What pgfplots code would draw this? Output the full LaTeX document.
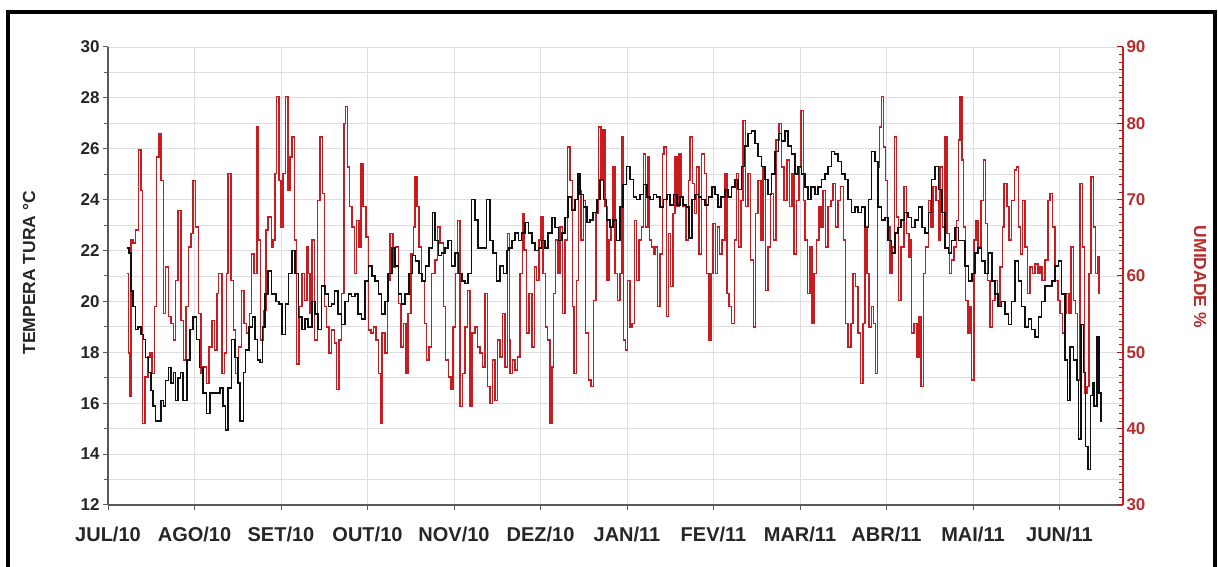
\documentclass[border=0pt]{standalone}
\usepackage{fontspec}
\setmainfont{Liberation Sans}
\usepackage{pgfplots}
\pgfplotsset{compat=1.18}
\definecolor{hum}{RGB}{200,28,32}
\definecolor{humtxt}{RGB}{185,45,45}
\definecolor{gridc}{RGB}{222,222,222}
\definecolor{axc}{RGB}{90,90,90}
\definecolor{tmp}{RGB}{15,15,15}
\begin{document}
\begin{tikzpicture}
\useasboundingbox (0,0) rectangle (1218pt,567pt);
\fill[white] (0,0) rectangle (1218pt,567pt);
% ---------- temperature axis (grid, left axis, months) ----------
\begin{axis}[at={(108pt,62pt)}, anchor=south west, scale only axis, width=1015pt, height=458pt,
 xmin=0, xmax=11.734, ymin=12, ymax=30,
 axis x line*=bottom, axis y line*=left,
 axis line style={-, draw=axc, line width=1.3pt},
 xtick={0,...,11},
 xticklabels={JUL/10,AGO/10,SET/10,OUT/10,NOV/10,DEZ/10,JAN/11,FEV/11,MAR/11,ABR/11,MAI/11,JUN/11},
 ytick={12,14,...,30}, minor ytick={13,15,...,29},
 xmajorgrids, ymajorgrids, yminorgrids,
 major grid style={draw=gridc, line width=0.8pt},
 minor grid style={draw=gridc, line width=0.8pt},
 tick align=outside, major tick length=5pt, minor tick length=4pt,
 tick style={draw=axc, line width=1pt},
 xticklabel style={font=\fontsize{20}{22}\selectfont\bfseries, yshift=-13pt, text=black!85},
 yticklabel style={font=\fontsize{17}{19}\selectfont\bfseries, text=black!85},
 /pgf/number format/assume math mode=true,
 ylabel={TEMPERA TURA °C},
 ylabel style={at={(axis description cs:-0.0778,0.507)}, anchor=center, font=\fontsize{17.5}{19}\selectfont\bfseries, text=black!85},
]
\end{axis}
% ---------- humidity axis (right) ----------
\begin{axis}[at={(108pt,62pt)}, anchor=south west, scale only axis, width=1015pt, height=458pt,
 xmin=0, xmax=11.734, ymin=30, ymax=90,
 axis x line=none, xtick=\empty,
 axis y line*=right,
 axis line style={-, draw=hum, line width=1.3pt},
 ytick={30,40,...,90}, minor tick num=9,
 tick align=inside, major tick length=6pt, minor tick length=4pt,
 tick style={draw=hum!80!black, line width=1pt},
 yticklabel style={font=\fontsize{17}{19}\selectfont\bfseries, text=humtxt},
 /pgf/number format/assume math mode=true,
 ylabel={UMIDADE \%},
 ylabel style={at={(axis description cs:1.076,0.498)}, anchor=center, rotate=180, font=\fontsize{17.5}{19}\selectfont\bfseries, text=humtxt},
]
\addplot[const plot, hum, line width=1.5pt] coordinates {
(0.215,60.3)(0.235,49.9)(0.255,44.2)(0.265,64.7)(0.29,64.3)(0.32,66.0)(0.35,76.5)(0.38,71.2)(0.40,40.7)(0.43,46.8)
(0.46,49.4)(0.485,49.9)(0.51,47.2)(0.535,56.0)(0.56,75.6)(0.59,78.7)(0.61,72.5)(0.64,55.1)(0.665,61.2)(0.70,54.7)
(0.73,53.8)(0.755,51.6)(0.78,59.4)(0.81,68.6)(0.845,54.2)(0.87,49.0)(0.90,56.0)(0.93,63.8)(0.96,65.6)(0.985,72.5)
(1.01,66.4)(1.045,55.1)(1.075,47.2)(1.10,48.1)(1.14,45.9)(1.165,50.7)(1.20,54.2)(1.23,50.3)(1.26,57.7)(1.28,60.3)
(1.315,47.2)(1.345,49.9)(1.37,60.3)(1.39,73.4)(1.42,59.4)(1.45,52.9)(1.475,47.2)(1.51,50.7)(1.545,58.1)(1.575,53.8)
(1.60,52.5)(1.635,55.1)(1.66,62.9)(1.69,60.3)(1.72,79.5)(1.74,64.7)(1.765,51.6)(1.795,55.5)(1.825,66.0)(1.85,67.7)
(1.89,63.8)(1.91,64.7)(1.93,73.4)(1.95,83.5)(1.975,72.5)(2.0,66.4)(2.025,73.4)(2.05,83.5)(2.08,71.2)(2.105,75.6)
(2.125,78.2)(2.155,64.7)(2.18,48.5)(2.21,56.0)(2.24,60.3)(2.27,56.8)(2.30,63.8)(2.32,60.3)
(2.335,55.1)(2.36,64.7)(2.39,51.6)(2.42,69.9)(2.45,78.2)(2.477,70.8)(2.50,56.0)(2.527,53.3)(2.555,49.9)(2.585,52.9)
(2.62,51.2)(2.643,45.1)(2.67,51.6)(2.70,57.7)(2.73,80.0)(2.747,82.2)(2.77,74.3)(2.79,69.1)(2.82,66.4)(2.85,60.3)
(2.875,67.3)(2.90,63.8)(2.924,74.7)(2.95,69.1)(2.98,65.1)(3.01,52.9)(3.04,52.5)(3.07,53.3)(3.10,51.6)(3.125,47.2)
(3.148,40.7)(3.17,52.5)(3.20,49.9)(3.233,59.4)(3.26,65.6)(3.295,61.2)(3.325,63.8)(3.356,56.4)(3.387,50.7)(3.418,53.8)
(3.445,47.2)(3.47,55.1)(3.50,62.9)(3.53,66.4)(3.55,73.0)(3.57,69.1)(3.595,63.8)(3.625,59.4)(3.66,53.8)(3.684,49.0)
(3.71,50.7)(3.74,60.3)(3.78,62.1)(3.81,66.4)(3.84,64.3)(3.876,56.0)(3.90,49.0)(3.934,46.8)(3.965,45.1)(3.99,53.3)
(4.02,60.3)(4.04,67.3)(4.07,42.9)(4.096,47.2)(4.127,53.3)(4.157,58.1)(4.185,42.9)(4.21,52.5)(4.24,53.3)(4.27,50.7)
(4.30,49.9)(4.33,48.1)(4.358,57.7)(4.39,45.5)(4.416,43.3)(4.443,49.0)(4.473,43.7)(4.504,51.6)(4.53,49.4)(4.558,55.1)
(4.59,48.1)(4.62,65.6)(4.64,51.6)
(4.647,47.2)(4.675,49.0)(4.705,47.7)(4.735,49.4)(4.763,60.3)(4.79,68.2)(4.81,63.4)(4.84,52.5)(4.867,57.7)(4.90,50.7)
(4.93,61.2)(4.956,59.4)(4.983,64.7)(5.006,67.7)(5.03,60.3)(5.06,53.3)(5.083,51.6)(5.11,40.7)(5.13,48.1)(5.15,57.7)
(5.176,64.7)(5.20,60.3)(5.226,66.4)(5.253,55.1)(5.284,64.7)(5.314,76.9)(5.34,72.5)(5.368,56.0)(5.39,47.2)(5.414,59.4)
(5.437,71.2)(5.47,64.7)(5.495,69.9)(5.52,52.5)(5.553,46.4)(5.584,45.5)(5.61,56.8)(5.64,68.2)(5.67,79.5)(5.70,72.5)
(5.72,79.1)(5.746,69.1)(5.77,59.4)(5.79,64.7)(5.815,66.4)(5.84,74.3)(5.86,60.3)(5.89,56.8)(5.92,60.3)(5.94,78.2)
(5.96,51.6)(5.985,50.3)(6.008,59.4)(6.035,53.3)(6.06,53.8)(6.085,67.3)(6.11,59.4)(6.14,64.7)(6.17,66.4)(6.19,76.0)
(6.216,66.4)(6.24,75.6)(6.26,64.7)(6.285,63.8)(6.31,62.9)(6.33,63.8)(6.355,56.0)(6.38,62.9)(6.41,76.0)(6.43,76.9)
(6.455,54.7)(6.48,65.6)(6.505,58.6)(6.53,68.2)(6.555,75.6)(6.578,69.1)(6.60,76.0)(6.625,70.4)(6.65,69.1)(6.68,64.7)
(6.71,72.5)(6.73,78.2)(6.755,72.1)(6.78,68.2)(6.805,74.3)(6.83,62.9)(6.863,76.0)(6.895,73.4)(6.92,60.3)(6.95,51.6)
(6.97,60.3)(6.996,66.9)(7.023,60.3)(7.046,66.4)(7.07,62.9)(7.10,64.7)(7.13,73.4)(7.154,57.7)(7.18,56.0)(7.21,53.8)
(7.24,64.7)(7.266,73.4)(7.29,63.8)(7.316,69.9)(7.343,80.4)(7.37,69.1)(7.40,73.4)(7.43,62.1)(7.46,53.3)(7.486,68.2)
(7.517,72.5)(7.547,64.7)(7.574,74.3)(7.60,58.1)(7.632,63.8)(7.66,70.8)(7.694,64.7)(7.72,77.8)(7.755,80.0)(7.786,74.3)
(7.817,69.9)(7.85,75.2)(7.88,69.1)(7.91,73.4)(7.933,62.9)(7.96,69.9)(7.987,74.3)(8.014,81.7)(8.04,69.9)(8.06,64.7)
(8.087,57.7)(8.114,63.8)(8.14,53.8)(8.164,60.3)(8.19,64.7)(8.218,69.1)(8.24,66.4)(8.268,71.2)(8.295,63.8)(8.326,69.1)
(8.357,69.9)(8.384,72.1)(8.41,66.4)(8.44,69.9)(8.47,71.7)(8.50,64.7)(8.526,53.8)(8.557,50.7)(8.588,53.8)(8.615,60.3)
(8.64,58.6)(8.67,52.5)(8.70,45.9)(8.727,53.8)(8.75,66.4)(8.777,60.3)(8.80,53.3)(8.827,56.0)(8.85,53.8)(8.873,47.2)
(8.896,74.3)(8.92,79.5)(8.94,83.5)(8.965,76.9)(8.99,72.5)(9.01,66.4)(9.04,60.3)(9.066,63.8)(9.09,78.2)(9.116,67.7)
(9.14,56.8)(9.17,63.8)(9.20,71.7)(9.23,65.6)(9.258,62.5)
(9.27,64.7)(9.29,52.5)(9.32,53.8)(9.35,49.4)(9.375,54.7)(9.40,45.5)(9.426,60.3)(9.45,63.8)(9.484,69.9)(9.514,66.4)
(9.54,71.7)(9.57,69.9)(9.60,64.7)(9.62,74.3)(9.65,66.4)(9.676,78.2)(9.70,65.6)(9.726,60.3)(9.75,62.1)(9.78,63.8)
(9.81,67.3)(9.83,77.8)(9.85,83.5)(9.87,75.2)(9.89,66.4)(9.915,56.8)(9.94,52.5)(9.965,56.0)(9.985,46.4)(10.01,64.7)
(10.035,67.3)(10.06,63.8)(10.09,69.9)(10.12,75.2)(10.146,66.9)(10.17,59.4)(10.197,53.3)(10.224,56.8)(10.255,59.4)(10.285,56.0)
(10.31,61.2)(10.34,66.4)(10.36,72.1)(10.39,69.1)(10.414,64.7)(10.447,69.9)(10.48,73.9)(10.50,74.3)(10.524,66.4)(10.547,62.9)
(10.57,69.9)(10.60,63.8)(10.63,57.7)(10.66,61.2)(10.686,60.3)(10.716,61.6)(10.75,60.3)(10.775,61.2)(10.80,59.4)(10.83,62.1)
(10.864,69.9)(10.89,70.8)(10.917,66.4)(10.948,59.4)(10.98,56.8)(11.006,55.1)(11.033,52.5)(11.056,55.1)(11.083,57.7)(11.11,55.1)
(11.133,63.8)(11.16,56.8)(11.187,55.1)(11.21,46.4)(11.237,72.1)(11.264,63.8)(11.287,44.6)(11.315,45.5)(11.34,60.3)(11.364,73.0)
(11.39,66.4)(11.418,60.3)(11.44,62.5)(11.457,57.7)(11.47,57.7)
};
\end{axis}
% ---------- temperature series on top ----------
\begin{axis}[at={(108pt,62pt)}, anchor=south west, scale only axis, width=1015pt, height=458pt,
 xmin=0, xmax=11.734, ymin=12, ymax=30, hide axis]
\addplot[const plot, tmp, line width=1.6pt] coordinates {
(0.215,22.1)(0.24,21.9)(0.265,20.4)(0.29,19.8)(0.32,18.9)(0.35,19.0)(0.38,18.7)(0.41,18.5)(0.435,17.8)(0.466,17.2)
(0.497,16.5)(0.52,15.9)(0.55,15.3)(0.58,15.3)(0.61,16.1)(0.64,15.9)(0.665,16.9)(0.70,17.4)(0.73,16.8)(0.755,17.2)
(0.78,16.1)(0.81,17.0)(0.84,17.2)(0.87,16.1)(0.91,17.7)(0.95,18.9)(0.985,19.4)(1.025,18.5)(1.06,17.4)(1.10,16.4)
(1.14,15.6)(1.18,16.4)(1.235,16.4)(1.295,16.6)(1.33,15.9)(1.36,14.95)(1.39,16.6)(1.43,18.5)(1.47,17.8)(1.50,16.8)
(1.525,15.3)(1.565,17.2)(1.59,18.1)(1.63,19.0)(1.67,19.4)(1.70,18.5)(1.73,17.7)(1.76,17.6)(1.785,19.0)(1.815,20.3)
(1.85,21.2)(1.89,20.3)(1.94,20.0)(1.975,19.9)(2.01,18.7)(2.05,19.9)(2.085,21.1)(2.125,22.0)(2.16,21.1)(2.2,19.4)
(2.24,18.9)(2.28,19.3)(2.315,19.0)
(2.355,20.0)(2.39,19.5)(2.43,18.9)(2.47,20.6)(2.51,20.3)(2.55,19.8)(2.585,19.9)(2.62,20.4)(2.66,19.5)(2.70,19.1)
(2.74,20.0)(2.78,20.3)(2.815,20.2)(2.855,20.3)(2.89,19.5)(2.93,19.3)(2.97,20.8)(3.01,21.4)(3.05,21.0)(3.086,20.8)
(3.125,20.3)(3.16,19.5)(3.2,20.0)(3.24,21.1)(3.28,22.1)(3.318,21.4)(3.356,20.3)(3.395,19.9)(3.433,20.3)(3.48,21.1)
(3.52,21.8)(3.556,21.6)(3.595,21.1)(3.633,20.8)(3.672,21.4)(3.71,22.1)(3.75,23.5)(3.78,22.4)(3.82,21.8)(3.857,21.9)
(3.896,22.1)(3.93,22.4)(3.97,21.4)(4.01,21.9)(4.05,21.1)(4.09,20.8)(4.127,20.7)(4.165,21.1)(4.204,24.0)(4.24,23.2)
(4.28,22.1)(4.32,22.1)(4.377,24.0)(4.416,22.4)(4.454,21.9)(4.49,20.8)(4.53,21.4)(4.57,21.1)(4.61,22.0)(4.636,22.1)
(4.667,22.4)(4.705,22.7)(4.744,22.4)(4.78,22.7)(4.82,23.1)(4.86,22.7)(4.90,22.3)(4.937,22.0)(4.975,22.1)(5.01,22.4)
(5.05,22.1)(5.09,22.7)(5.13,23.3)(5.17,22.9)(5.207,22.4)(5.245,22.7)(5.284,23.3)(5.32,24.1)(5.36,23.6)(5.40,24.0)
(5.43,25.0)(5.457,24.2)(5.495,23.7)(5.535,23.1)(5.573,23.2)(5.61,23.5)(5.65,24.0)(5.69,24.8)(5.727,24.0)(5.765,23.2)
(5.80,22.9)(5.84,23.2)(5.88,22.4)(5.92,23.7)(5.957,24.6)(5.996,25.3)(6.035,24.8)(6.074,24.1)(6.11,24.0)(6.15,24.2)
(6.19,24.6)(6.23,24.1)(6.266,24.0)(6.305,24.2)(6.343,24.1)(6.38,23.7)(6.42,24.0)(6.46,24.2)(6.497,23.8)(6.536,24.2)
(6.575,23.8)(6.613,24.1)(6.65,23.8)(6.69,23.7)(6.716,22.5)(6.75,24.0)(6.786,24.2)(6.825,24.1)(6.863,24.0)(6.90,23.8)
(6.94,24.1)
(6.98,24.5)(7.016,24.2)(7.054,23.7)(7.09,24.1)(7.13,24.4)(7.17,24.1)(7.21,24.5)(7.247,24.8)(7.285,24.4)(7.324,25.3)
(7.36,26.1)(7.40,26.6)(7.44,26.7)(7.48,26.2)(7.517,25.7)(7.555,25.3)(7.594,24.8)(7.632,24.2)(7.67,25.0)(7.71,25.9)
(7.75,26.6)(7.786,26.3)(7.825,26.7)(7.86,26.1)(7.90,25.8)(7.94,25.0)(7.98,25.3)(8.017,25.0)(8.056,24.5)(8.095,24.0)
(8.13,24.5)(8.17,24.2)(8.21,24.5)(8.25,24.8)(8.29,25.0)(8.326,25.3)(8.364,25.9)(8.40,25.8)(8.44,25.5)(8.48,25.0)
(8.52,24.8)(8.557,24.0)(8.596,23.5)(8.634,23.7)(8.67,23.5)(8.71,23.7)(8.75,22.9)(8.79,24.0)(8.827,25.9)(8.865,25.5)
(8.90,23.7)(8.94,23.2)(8.98,23.3)(9.02,22.4)(9.058,21.9)(9.096,22.7)(9.135,22.9)(9.17,23.2)(9.21,23.5)(9.25,23.3)
(9.29,22.9)(9.33,23.2)(9.37,23.7)(9.407,22.9)(9.445,22.7)(9.484,23.5)(9.52,24.8)(9.56,25.3)(9.60,24.4)(9.638,23.5)
(9.676,22.1)(9.715,21.9)(9.75,22.4)(9.79,22.9)(9.83,22.4)(9.87,22.4)(9.907,21.4)(9.946,20.8)(9.985,21.1)(10.02,21.9)
(10.06,22.1)(10.10,21.6)(10.14,21.1)(10.18,21.9)(10.216,20.8)(10.255,20.3)(10.29,19.8)(10.33,20.0)(10.37,19.5)(10.41,19.1)
(10.447,20.0)(10.485,21.6)(10.524,20.8)(10.56,19.8)(10.60,19.0)(10.64,19.3)(10.678,18.9)(10.716,18.6)(10.755,19.4)(10.79,20.0)
(10.83,20.6)(10.87,20.6)(10.91,20.8)(10.948,21.4)(10.986,21.6)(11.025,20.3)(11.064,17.7)(11.094,16.1)(11.12,18.2)(11.16,17.7)
(11.20,16.9)(11.218,14.6)(11.25,19.1)(11.275,17.2)(11.30,14.3)(11.33,13.4)(11.356,16.3)(11.38,16.8)(11.40,15.9)(11.43,18.6)
(11.457,16.4)(11.48,15.3)(11.49,15.3)
};
\end{axis}
\draw[line width=3.5pt, black] (8pt,-10pt) -- (8pt,555pt) -- (1215pt,555pt) -- (1215pt,-10pt);
\end{tikzpicture}
\end{document}
